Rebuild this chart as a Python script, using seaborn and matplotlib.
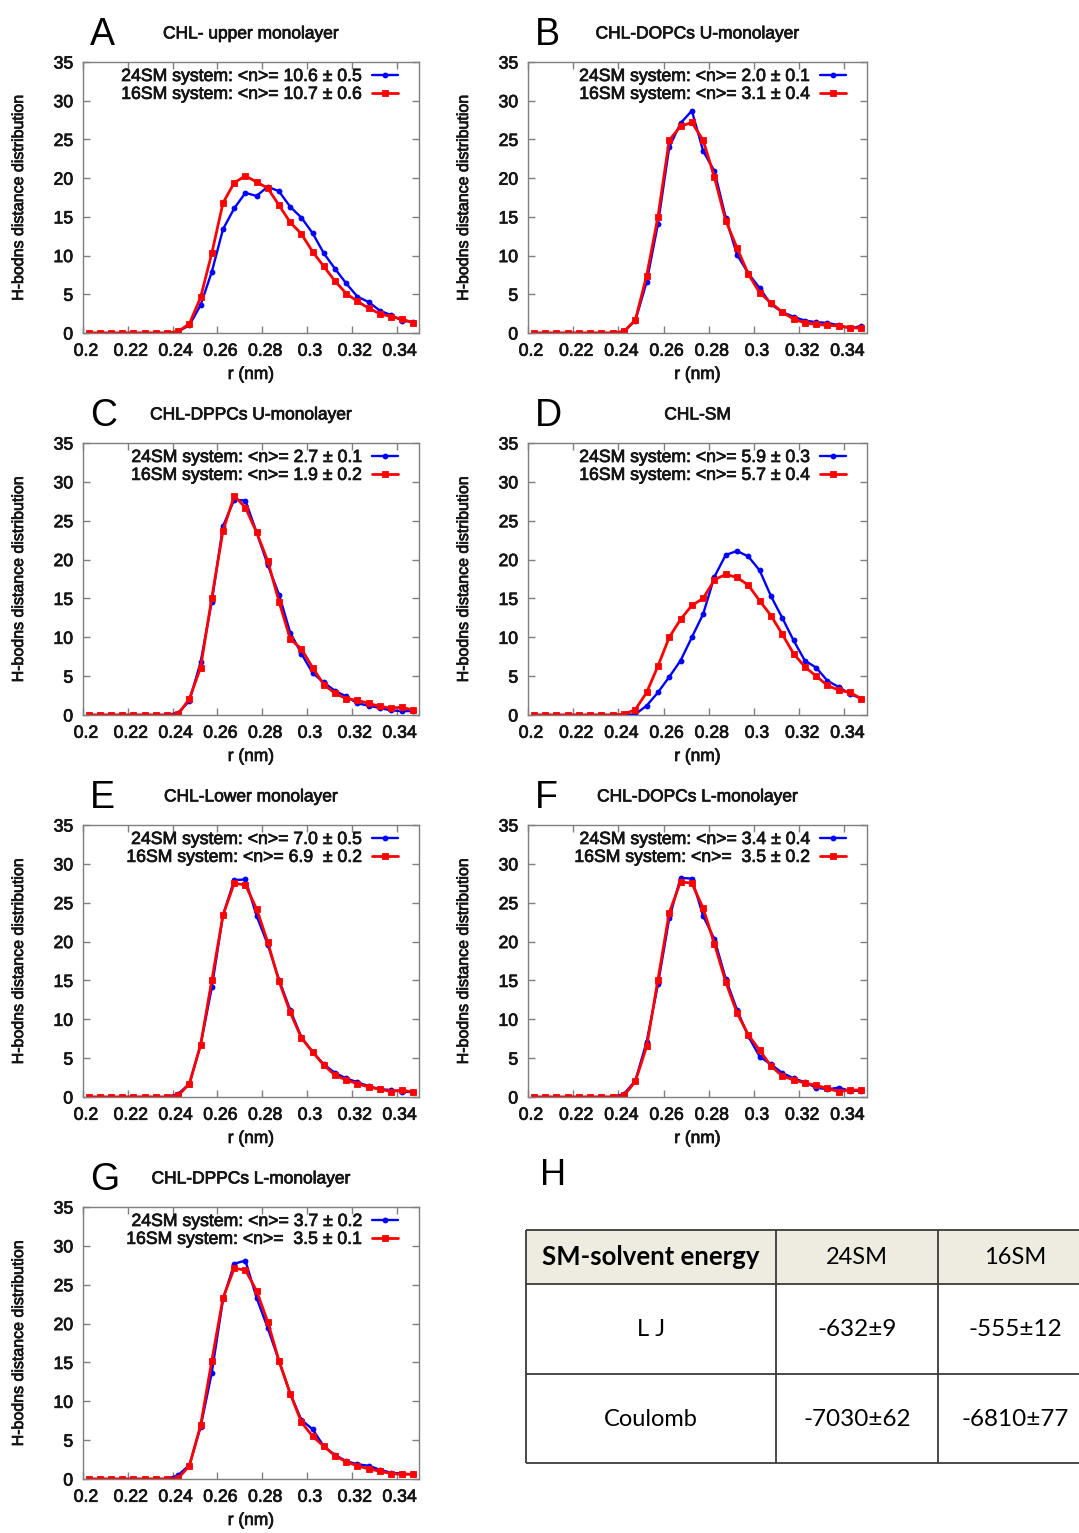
import numpy as np
import pandas as pd
import matplotlib
matplotlib.use("Agg")
import matplotlib.pyplot as plt
import matplotlib.patheffects as pe
import seaborn as sns
from matplotlib.transforms import ScaledTranslation

# ---------------- data ----------------
r_nm = [0.2025, 0.2075, 0.2125, 0.2175, 0.2225, 0.2275, 0.2325, 0.2375, 0.2425, 0.2475,
        0.2525, 0.2575, 0.2625, 0.2675, 0.2725, 0.2775, 0.2825, 0.2875, 0.2925, 0.2975,
        0.3025, 0.3075, 0.3125, 0.3175, 0.3225, 0.3275, 0.3325, 0.3375, 0.3425, 0.3475]

Z = [0, 0, 0, 0, 0, 0, 0, 0]
a_24sm = Z + [0.2, 1.0, 3.6, 7.9, 13.4, 16.1, 18.1, 17.7, 18.9, 18.3, 16.3, 14.9, 12.9, 10.3, 8.3, 6.4, 4.7, 4.0, 2.9, 2.3, 1.6, 1.4]
a_16sm = Z + [0.2, 1.2, 4.6, 10.3, 16.8, 19.4, 20.3, 19.5, 18.7, 16.5, 14.3, 12.8, 10.5, 8.6, 6.7, 5.1, 4.1, 3.2, 2.5, 2.1, 1.8, 1.3]
b_24sm = Z + [0.2, 1.6, 6.6, 14.1, 24.0, 27.1, 28.7, 23.5, 20.9, 14.9, 10.1, 7.7, 5.8, 3.7, 2.7, 2.1, 1.6, 1.4, 1.3, 1.0, 0.6, 0.9]
b_16sm = Z + [0.2, 1.7, 7.4, 15.0, 24.9, 26.7, 27.2, 24.9, 20.1, 14.5, 11.0, 7.6, 5.2, 3.9, 2.7, 1.8, 1.3, 1.1, 1.0, 0.9, 0.7, 0.6]
c_24sm = Z + [0.3, 1.8, 6.8, 14.6, 24.3, 27.7, 27.6, 23.5, 19.3, 15.5, 10.6, 7.9, 5.4, 4.2, 3.1, 2.4, 1.5, 1.2, 0.9, 0.6, 0.5, 0.5]
c_16sm = Z + [0.1, 2.1, 6.1, 15.1, 23.7, 28.2, 26.7, 23.5, 19.8, 14.6, 9.8, 8.5, 6.1, 3.9, 2.8, 2.1, 1.9, 1.5, 1.1, 0.9, 1.0, 0.6]
d_24sm = Z + [0.0, 0.1, 1.2, 2.9, 4.9, 7.0, 10.0, 13.0, 17.8, 20.6, 21.1, 20.4, 18.6, 15.3, 12.5, 9.6, 7.0, 6.1, 4.4, 3.6, 2.7, 2.1]
d_16sm = Z + [0.1, 0.7, 2.9, 6.3, 10.0, 12.3, 14.1, 15.0, 17.4, 18.1, 17.7, 16.7, 14.7, 12.8, 10.4, 7.9, 6.2, 5.0, 3.8, 3.2, 2.9, 2.1]
e_24sm = Z + [0.4, 1.7, 6.7, 14.1, 23.4, 27.9, 28.0, 23.3, 19.6, 15.1, 11.2, 7.7, 5.8, 4.2, 3.1, 2.4, 1.9, 1.4, 1.0, 0.9, 0.7, 0.6]
e_16sm = Z + [0.2, 1.7, 6.7, 15.0, 23.4, 27.5, 27.3, 24.2, 19.9, 14.9, 10.9, 7.6, 5.8, 4.1, 2.8, 2.2, 1.7, 1.3, 1.0, 0.7, 0.9, 0.6]
f_24sm = Z + [0.4, 2.1, 7.1, 14.5, 23.0, 28.2, 28.1, 23.3, 20.3, 15.2, 11.2, 7.8, 5.2, 4.2, 3.1, 2.4, 1.9, 1.2, 1.0, 1.2, 0.8, 0.8]
f_16sm = Z + [0.2, 2.0, 6.5, 15.1, 23.7, 27.7, 27.5, 24.3, 19.7, 14.8, 10.8, 8.0, 6.0, 4.0, 2.7, 2.2, 1.8, 1.5, 1.1, 0.7, 0.9, 0.9]
g_24sm = Z + [0.5, 1.8, 6.7, 13.7, 23.1, 27.7, 28.1, 23.3, 19.4, 15.2, 11.0, 7.6, 6.4, 4.2, 3.1, 2.3, 1.9, 1.7, 1.2, 0.8, 0.7, 0.6]
g_16sm = Z + [0.1, 1.7, 6.9, 15.2, 23.3, 27.1, 26.9, 24.2, 20.2, 15.2, 11.0, 7.3, 5.5, 4.2, 3.0, 2.2, 1.7, 1.3, 1.0, 0.7, 0.6, 0.6]

panel_letters = ["A", "B", "C", "D", "E", "F", "G"]
panel_titles = ["CHL- upper monolayer", "CHL-DOPCs U-monolayer", "CHL-DPPCs U-monolayer",
                "CHL-SM", "CHL-Lower monolayer", "CHL-DOPCs L-monolayer", "CHL-DPPCs L-monolayer"]
legend_24sm = ["24SM system: <n>= 10.6 \u00b1 0.5", "24SM system: <n>= 2.0 \u00b1 0.1",
               "24SM system: <n>= 2.7 \u00b1 0.1", "24SM system: <n>= 5.9 \u00b1 0.3",
               "24SM system: <n>= 7.0 \u00b1 0.5", "24SM system: <n>= 3.4 \u00b1 0.4",
               "24SM system: <n>= 3.7 \u00b1 0.2"]
legend_16sm = ["16SM system: <n>= 10.7 \u00b1 0.6", "16SM system: <n>= 3.1 \u00b1 0.4",
               "16SM system: <n>= 1.9 \u00b1 0.2", "16SM system: <n>= 5.7 \u00b1 0.4",
               "16SM system: <n>= 6.9  \u00b1 0.2", "16SM system: <n>=  3.5 \u00b1 0.2",
               "16SM system: <n>=  3.5 \u00b1 0.1"]
series_24sm = [a_24sm, b_24sm, c_24sm, d_24sm, e_24sm, f_24sm, g_24sm]
series_16sm = [a_16sm, b_16sm, c_16sm, d_16sm, e_16sm, f_16sm, g_16sm]

x_ticks = [0.2, 0.22, 0.24, 0.26, 0.28, 0.3, 0.32, 0.34]
x_ticklabels = ["0.2", "0.22", "0.24", "0.26", "0.28", "0.3", "0.32", "0.34"]
y_ticks = [0, 5, 10, 15, 20, 25, 30, 35]

table_header = ["SM-solvent energy", "24SM", "16SM"]
table_rows = ["L J", "Coulomb"]
table_24sm = ["-632\u00b19", "-7030\u00b162"]
table_16sm = ["-555\u00b112", "-6810\u00b177"]

# ---------------- style ----------------
sns.set_style("ticks")
plt.rcParams['font.family'] = ['Liberation Sans', 'DejaVu Sans']

W, H = 1079, 1533
fig = plt.figure(figsize=(W / 100, H / 100), dpi=100)

def ax_at(l, t, r, b):
    return fig.add_axes([l / W, 1 - b / H, (r - l) / W, (b - t) / H])

cols = [(83, 419), (528, 867)]
rows = [(62, 333), (443, 715), (825, 1097), (1207, 1479)]
FRAME = '#7f7f7f'
TXT = '#151515'
heavy = [pe.withStroke(linewidth=0.55, foreground=TXT)]

for i in range(7):
    cl, cr = cols[i % 2]
    rt, rb = rows[i // 2]
    w, h = cr - cl, rb - rt
    ax = ax_at(cl, rt, cr, rb)
    df24 = pd.DataFrame({'r': r_nm, 'n': series_24sm[i]})
    df16 = pd.DataFrame({'r': r_nm, 'n': series_16sm[i]})
    sns.lineplot(data=df24, x='r', y='n', ax=ax, color='#0000ff', linewidth=1.7,
                 marker='o', markersize=4.2, markeredgewidth=0, label=legend_24sm[i])
    sns.lineplot(data=df16, x='r', y='n', ax=ax, color='#ff0000', linewidth=2.0,
                 marker='s', markersize=4.4, markeredgewidth=0.6, markeredgecolor='#ff0000',
                 label=legend_16sm[i])
    ax.set_xlim(0.2, 0.35)
    ax.set_ylim(0, 35)
    ax.set_xticks(x_ticks)
    ax.set_xticklabels(x_ticklabels)
    ax.set_yticks(y_ticks)
    ax.tick_params(direction='in', top=True, right=True, length=5, width=1,
                   color=FRAME, labelsize=12.7, labelcolor=TXT)
    ax.tick_params(axis='x', pad=7)
    ax.tick_params(axis='y', pad=7)
    for s in ax.spines.values():
        s.set_color(FRAME)
        s.set_linewidth(1.0)
    off = ScaledTranslation(3 / 100, 0, fig.dpi_scale_trans)
    for lab in ax.get_xticklabels():
        lab.set_transform(lab.get_transform() + off)
        lab.set_path_effects(heavy)
    for lab in ax.get_yticklabels():
        lab.set_path_effects(heavy)
    ax.set_xlabel("r (nm)", fontsize=12.5, color=TXT)
    ax.xaxis.set_label_coords(0.5, -34 / h)
    ax.xaxis.label.set_path_effects(heavy)
    ax.set_ylabel("H-bodns distance distribution", fontsize=11.5, color=TXT)
    ax.yaxis.set_label_coords(-57 / w, 0.5)
    ax.yaxis.label.set_path_effects(heavy)
    t = ax.set_title(panel_titles[i], fontsize=12.5, pad=17, color=TXT)
    t.set_path_effects(heavy)
    ax.text(7 / w, 1 + 17 / h, panel_letters[i], transform=ax.transAxes,
            fontsize=27, ha='left', va='baseline', color='black')
    leg = ax.legend(loc='upper right', bbox_to_anchor=(1 - 21 / w, 1 - 6 / h),
                    frameon=False, markerfirst=False, handlelength=1.5,
                    handletextpad=0.55, labelspacing=0.05, borderaxespad=0,
                    borderpad=0, fontsize=12.7)
    for t in leg.get_texts():
        t.set_color(TXT)
        t.set_path_effects(heavy)

# ---------------- panel H: table ----------------
fig.text(540 / W, 1 - 1185 / H, "H", fontsize=26, ha='left', va='baseline', color='black')

tl, tt, tr, tb = 526, 1230, 1100, 1463
tax = ax_at(tl, tt, tr, tb)
tw, th = tr - tl, tb - tt
tax.set_xlim(0, tw)
tax.set_ylim(th, 0)
tax.axis('off')
col_edges = [0, 250, 412]
row_edges = [0, 54, 144, 233]
tax.fill_between([0, tw], 0, 54, color='#eeece1', linewidth=0)
tax.hlines(row_edges, 0, tw, color='#3a3a3a', linewidth=1.3, clip_on=False)
tax.vlines(col_edges, 0, th, color='#3a3a3a', linewidth=1.3, clip_on=False)

tfont = ['Lato', 'DejaVu Sans']
col_centers = [125, 331, 489]
row_centers = [27, 99, 189]
tax.text(col_centers[0], row_centers[0], table_header[0], ha='center', va='center',
         fontsize=18.5, fontweight='bold', family=tfont, color='black')
tax.text(col_centers[1], row_centers[0], table_header[1], ha='center', va='center',
         fontsize=17, family=tfont, color='black')
tax.text(col_centers[2], row_centers[0], table_header[2], ha='center', va='center',
         fontsize=17, family=tfont, color='black')
for k in range(2):
    tax.text(col_centers[0], row_centers[k + 1], table_rows[k], ha='center', va='center',
             fontsize=17, family=tfont, color='black')
    tax.text(col_centers[1], row_centers[k + 1], table_24sm[k], ha='center', va='center',
             fontsize=17.5, family=tfont, color='black')
    tax.text(col_centers[2], row_centers[k + 1], table_16sm[k], ha='center', va='center',
             fontsize=17.5, family=tfont, color='black')

fig.savefig("out.png", dpi=100)
